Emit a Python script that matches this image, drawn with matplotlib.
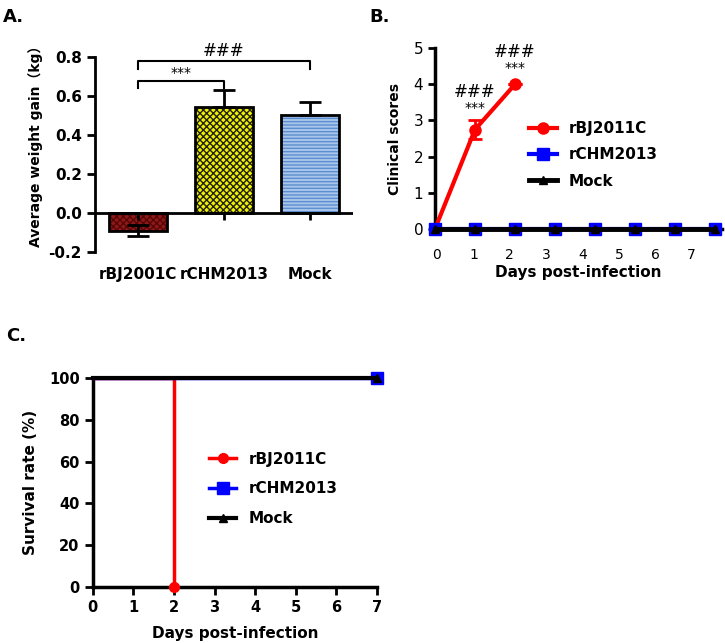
import numpy as np
import matplotlib.pyplot as plt

plt.rcParams['font.family'] = ['DejaVu Sans', 'Noto Sans CJK SC']
plt.rcParams['hatch.linewidth'] = 1.0

# A: weight gain
groups = ['rBJ2001C', 'rCHM2013', 'Mock']
gain = [-0.09, 0.545, 0.505]
gain_err_lo = [0.03, 0.0, 0.0]
gain_err_hi = [0.03, 0.085, 0.065]

# B: clinical scores
days = [0, 1, 2, 3, 4, 5, 6, 7]
rbj_days = [0, 1, 2]
rbj_score = [0, 2.75, 4.0]
rbj_err = [0, 0.25, 0]
rchm_score = [0, 0, 0, 0, 0, 0, 0, 0]
mock_score = [0, 0, 0, 0, 0, 0, 0, 0]

# C: survival
rbj_surv_days = [0, 2]
rbj_surv = [100, 0]
ctrl_surv_days = [0, 7]
rchm_surv = [100, 100]
mock_surv = [100, 100]

fig = plt.figure(figsize=(7.25, 6.43), dpi=100)

# ---------------- A ----------------
ax = fig.add_axes([0.131, 0.608, 0.356, 0.303])
x = np.arange(len(groups))
faces = ['#8b1a1a', '#eeee10', '#a9c6ea']
hcols = ['#5a0505', '#222200', '#5c8fd2']
hatches = ['xxxxx', 'xxxxx', '-----']
for i in range(len(groups)):
    ax.bar(x[i], gain[i], 0.67, color=faces[i], edgecolor=hcols[i], hatch=hatches[i], lw=0)
ax.bar(x, gain, 0.67, fill=False, edgecolor='k', lw=2)
ax.errorbar(x, gain, yerr=[gain_err_lo, gain_err_hi], fmt='none', ecolor='k',
            elinewidth=2, capsize=8, capthick=2)
ax.axhline(0, color='k', lw=2)
ax.vlines(x, -0.035, 0, color='k', lw=2)
ax.set_xlim(-0.5, 2.5)
ax.set_ylim(-0.2, 0.8)
ax.set_yticks([-0.2, 0.0, 0.2, 0.4, 0.6, 0.8])
ax.set_yticklabels(['-0.2', '0.0', '0.2', '0.4', '0.6', '0.8'], fontweight='bold', fontsize=11)
ax.set_xticks(x)
ax.set_xticklabels(groups, fontweight='bold', fontsize=11)
ax.tick_params(axis='x', length=0, pad=11)
ax.tick_params(axis='y', length=6, width=2)
for s in ['top', 'right', 'bottom']:
    ax.spines[s].set_visible(False)
ax.spines['left'].set_linewidth(2)
ax.set_ylabel('Average weight gain（kg）', fontweight='bold', fontsize=10)
ax.yaxis.set_label_coords(-0.2, 0.56)
ax.plot([0, 0, 2, 2], [0.74, 0.78, 0.78, 0.74], color='k', lw=1.5, clip_on=False)
ax.text(1, 0.785, '###', ha='center', va='bottom', fontsize=12)
ax.plot([0, 0, 1, 1], [0.64, 0.68, 0.68, 0.64], color='k', lw=1.5, clip_on=False)
ax.text(0.5, 0.685, '***', ha='center', va='bottom', fontsize=10)

# ---------------- B ----------------
bx = fig.add_axes([0.6, 0.644, 0.396, 0.281])
bx.plot(rbj_days, rbj_score, color='#ff0000', lw=3, marker='o', ms=8, clip_on=False, zorder=3,
        label='rBJ2011C')
bx.errorbar(rbj_days, rbj_score, yerr=rbj_err, fmt='none', ecolor='#ff0000', elinewidth=2,
            capsize=5, capthick=2, zorder=3)
bx.plot(days, rchm_score, color='#0000ff', lw=3, marker='s', ms=8, clip_on=False, zorder=4,
        label='rCHM2013')
bx.plot(days, mock_score, color='k', lw=3.5, marker='^', ms=6, clip_on=False, zorder=5,
        label='Mock')
bx.set_xlim(0, 7.18)
bx.set_ylim(0, 5)
day_pos = np.array(days) * 0.91 + 0.05
bx.set_xticks(day_pos)
bx.set_xticklabels([str(d) for d in days], fontsize=10)
bx.set_yticks([0, 1, 2, 3, 4, 5])
bx.set_yticklabels(['0', '1', '2', '3', '4', '5'], fontsize=11)
bx.tick_params(axis='x', length=0, pad=14)
bx.tick_params(axis='y', length=5, width=2)
for s in ['top', 'right']:
    bx.spines[s].set_visible(False)
bx.spines['left'].set_linewidth(2.5)
bx.spines['bottom'].set_linewidth(2.5)
bx.set_xlabel('Days post-infection', fontweight='bold', fontsize=11, labelpad=2)
bx.set_ylabel('Clinical scores', fontweight='bold', fontsize=10, labelpad=8)
for d, yh, ys in [(1, 3.55, 3.15), (2, 4.65, 4.25)]:
    bx.text(d, yh, '###', ha='center', va='bottom', fontsize=12)
    bx.text(d, ys, '***', ha='center', va='bottom', fontsize=10)
bx.legend(loc='center left', bbox_to_anchor=(0.28, 0.41), frameon=False, handlelength=1.8,
          labelspacing=0.75, prop={'weight': 'bold', 'size': 11})

# ---------------- C ----------------
cx = fig.add_axes([0.128, 0.087, 0.392, 0.325])
cx.plot(rbj_surv_days, rbj_surv, color='#ff0000', lw=2.5, drawstyle='steps-post', marker='o',
        markevery=[1], ms=7, clip_on=False, zorder=3, label='rBJ2011C')
cx.plot(ctrl_surv_days, rchm_surv, color='#0000ff', lw=2.5, marker='s', markevery=[1], ms=8,
        clip_on=False, zorder=4, label='rCHM2013')
cx.plot(ctrl_surv_days, mock_surv, color='k', lw=3, marker='^', markevery=[1], ms=6,
        clip_on=False, zorder=5, label='Mock')
cx.set_xlim(0, 7)
cx.set_ylim(0, 100)
cx.set_xticks(days)
cx.set_xticklabels([str(d) for d in days], fontweight='bold', fontsize=10.5)
cx.set_yticks([0, 20, 40, 60, 80, 100])
cx.set_yticklabels(['0', '20', '40', '60', '80', '100'], fontweight='bold', fontsize=10.5)
cx.tick_params(length=6, width=2)
for s in ['top', 'right']:
    cx.spines[s].set_visible(False)
cx.spines['left'].set_linewidth(2.5)
cx.spines['bottom'].set_linewidth(2.5)
cx.set_xlabel('Days post-infection', fontweight='bold', fontsize=11, labelpad=8)
cx.set_ylabel('Survival rate (%)', fontweight='bold', fontsize=11, labelpad=8)
cx.legend(loc='center left', bbox_to_anchor=(0.36, 0.47), frameon=False, handlelength=1.8,
          labelspacing=0.95, prop={'weight': 'bold', 'size': 11})

fig.text(0.004, 0.988, 'A.', fontweight='bold', fontsize=13, va='top')
fig.text(0.51, 0.988, 'B.', fontweight='bold', fontsize=13, va='top')
fig.text(0.008, 0.492, 'C.', fontweight='bold', fontsize=13, va='top')

fig.savefig('out.png', dpi=100)
